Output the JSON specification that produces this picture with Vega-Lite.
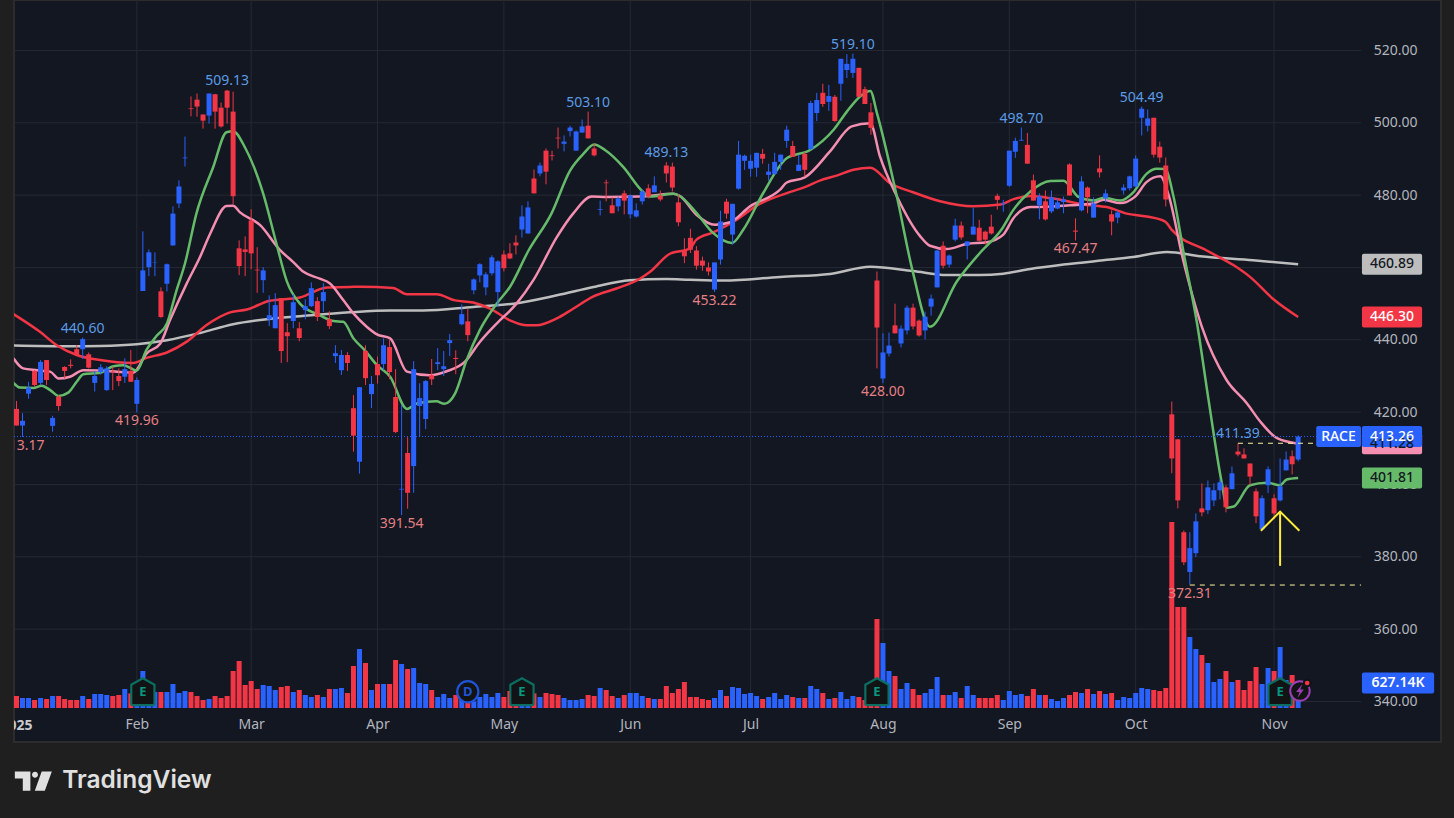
{
"$schema":"https://vega.github.io/schema/vega-lite/v6.json",
"width":1427,"height":742,"autosize":"none",
"padding":{"left":14,"top":0,"right":13,"bottom":76},
"background":"#1f1f1f",
"view":{"fill":"#131722","stroke":"#2c2c2c","strokeWidth":2},
"config":{"font":"Noto Sans","legend":{"disable":true},"axis":{"title":null},"scale":{"continuousPadding":0}},
"datasets":{
"candles":[
{"i":0,"o":420.9,"h":423.1,"l":416.3,"c":416.3,"v":300,"d":"down"},
{"i":1,"o":416.3,"h":419.7,"l":413.17,"c":417.6,"v":250,"d":"up"},
{"i":2,"o":425.1,"h":428.4,"l":423.7,"c":426.8,"v":250,"d":"up"},
{"i":3,"o":431.4,"h":431.6,"l":427.0,"c":427.5,"v":200,"d":"down"},
{"i":4,"o":428.1,"h":434.4,"l":427.5,"c":433.9,"v":250,"d":"up"},
{"i":5,"o":434.4,"h":434.4,"l":427.5,"c":428.9,"v":225,"d":"down"},
{"i":6,"o":416.2,"h":419.0,"l":414.6,"c":418.4,"v":300,"d":"up"},
{"i":7,"o":424.3,"h":424.7,"l":420.4,"c":421.7,"v":300,"d":"down"},
{"i":8,"o":432.5,"h":432.7,"l":429.3,"c":431.4,"v":225,"d":"down"},
{"i":9,"o":433.1,"h":434.6,"l":432.1,"c":432.8,"v":200,"d":"down"},
{"i":10,"o":437.4,"h":438.5,"l":435.8,"c":435.8,"v":200,"d":"down"},
{"i":11,"o":437.4,"h":440.6,"l":434.7,"c":440.2,"v":300,"d":"up"},
{"i":12,"o":436.0,"h":436.5,"l":432.1,"c":432.3,"v":225,"d":"down"},
{"i":13,"o":428.1,"h":431.4,"l":425.7,"c":430.0,"v":350,"d":"up"},
{"i":14,"o":431.1,"h":433.3,"l":430.3,"c":432.4,"v":350,"d":"up"},
{"i":15,"o":426.1,"h":432.7,"l":425.9,"c":432.1,"v":325,"d":"up"},
{"i":16,"o":431.2,"h":432.6,"l":426.1,"c":431.0,"v":300,"d":"down"},
{"i":17,"o":430.0,"h":432.1,"l":427.2,"c":428.6,"v":325,"d":"down"},
{"i":18,"o":429.8,"h":434.9,"l":428.1,"c":431.9,"v":475,"d":"up"},
{"i":19,"o":431.4,"h":437.2,"l":428.4,"c":428.4,"v":365,"d":"down"},
{"i":20,"o":422.3,"h":429.6,"l":419.96,"c":428.9,"v":330,"d":"up"},
{"i":21,"o":453.5,"h":470.0,"l":453.5,"c":459.2,"v":925,"d":"up"},
{"i":22,"o":460.1,"h":465.0,"l":457.6,"c":464.2,"v":330,"d":"up"},
{"i":23,"o":461.3,"h":464.2,"l":457.6,"c":461.4,"v":400,"d":"up"},
{"i":24,"o":453.4,"h":454.5,"l":446.1,"c":446.3,"v":400,"d":"down"},
{"i":25,"o":455.5,"h":461.1,"l":453.4,"c":460.9,"v":400,"d":"up"},
{"i":26,"o":466.1,"h":476.9,"l":466.0,"c":474.9,"v":600,"d":"up"},
{"i":27,"o":477.7,"h":484.1,"l":476.4,"c":482.4,"v":375,"d":"up"},
{"i":28,"o":490.2,"h":496.2,"l":487.9,"c":490.4,"v":425,"d":"up"},
{"i":29,"o":504.0,"h":507.3,"l":501.8,"c":503.8,"v":400,"d":"down"},
{"i":30,"o":506.4,"h":508.1,"l":501.7,"c":504.5,"v":300,"d":"down"},
{"i":31,"o":502.3,"h":502.3,"l":498.4,"c":500.6,"v":200,"d":"down"},
{"i":32,"o":502.0,"h":508.1,"l":499.8,"c":508.1,"v":225,"d":"up"},
{"i":33,"o":507.9,"h":508.0,"l":498.4,"c":503.1,"v":300,"d":"down"},
{"i":34,"o":504.2,"h":505.6,"l":498.7,"c":499.0,"v":250,"d":"down"},
{"i":35,"o":508.9,"h":509.13,"l":499.8,"c":504.2,"v":300,"d":"down"},
{"i":36,"o":503.1,"h":508.6,"l":477.5,"c":479.7,"v":925,"d":"down"},
{"i":37,"o":465.3,"h":467.5,"l":457.9,"c":460.4,"v":1175,"d":"down"},
{"i":38,"o":465.0,"h":468.6,"l":457.6,"c":464.3,"v":575,"d":"down"},
{"i":39,"o":473.0,"h":476.1,"l":459.5,"c":463.9,"v":675,"d":"down"},
{"i":40,"o":459.4,"h":465.6,"l":453.0,"c":459.2,"v":475,"d":"down"},
{"i":41,"o":456.5,"h":460.1,"l":453.0,"c":459.2,"v":575,"d":"up"},
{"i":42,"o":445.6,"h":452.3,"l":443.8,"c":446.8,"v":550,"d":"up"},
{"i":43,"o":443.2,"h":452.9,"l":443.2,"c":449.6,"v":450,"d":"up"},
{"i":44,"o":451.5,"h":451.5,"l":433.6,"c":436.9,"v":525,"d":"down"},
{"i":45,"o":442.1,"h":444.6,"l":433.8,"c":441.0,"v":550,"d":"down"},
{"i":46,"o":445.2,"h":452.6,"l":443.2,"c":450.4,"v":400,"d":"up"},
{"i":47,"o":443.2,"h":444.9,"l":439.6,"c":440.5,"v":450,"d":"down"},
{"i":48,"o":448.2,"h":451.2,"l":445.7,"c":449.3,"v":325,"d":"up"},
{"i":49,"o":449.3,"h":455.9,"l":449.1,"c":454.3,"v":275,"d":"up"},
{"i":50,"o":450.7,"h":451.8,"l":445.2,"c":446.3,"v":325,"d":"down"},
{"i":51,"o":450.7,"h":455.7,"l":447.7,"c":453.2,"v":275,"d":"up"},
{"i":52,"o":445.7,"h":447.9,"l":443.0,"c":443.8,"v":475,"d":"down"},
{"i":53,"o":435.5,"h":438.5,"l":433.6,"c":436.3,"v":475,"d":"up"},
{"i":54,"o":431.6,"h":437.2,"l":430.3,"c":435.8,"v":500,"d":"up"},
{"i":55,"o":435.8,"h":436.6,"l":431.4,"c":433.6,"v":375,"d":"down"},
{"i":56,"o":421.1,"h":424.7,"l":409.1,"c":413.5,"v":1050,"d":"down"},
{"i":57,"o":406.3,"h":426.9,"l":403.0,"c":426.9,"v":1475,"d":"up"},
{"i":58,"o":436.9,"h":438.5,"l":427.5,"c":429.4,"v":1125,"d":"down"},
{"i":59,"o":425.0,"h":430.0,"l":421.1,"c":427.8,"v":450,"d":"up"},
{"i":60,"o":433.3,"h":435.4,"l":427.9,"c":430.2,"v":600,"d":"down"},
{"i":61,"o":433.3,"h":440.4,"l":431.6,"c":438.5,"v":600,"d":"up"},
{"i":62,"o":438.0,"h":439.9,"l":429.1,"c":431.1,"v":600,"d":"down"},
{"i":63,"o":424.2,"h":431.9,"l":414.2,"c":414.5,"v":1200,"d":"down"},
{"i":64,"o":398.6,"h":422.0,"l":391.54,"c":398.8,"v":1100,"d":"up"},
{"i":65,"o":408.7,"h":413.1,"l":393.3,"c":397.7,"v":975,"d":"down"},
{"i":66,"o":405.1,"h":434.1,"l":397.7,"c":431.9,"v":1000,"d":"up"},
{"i":67,"o":421.7,"h":428.0,"l":413.1,"c":423.9,"v":625,"d":"up"},
{"i":68,"o":418.1,"h":428.9,"l":415.3,"c":428.6,"v":600,"d":"up"},
{"i":69,"o":430.2,"h":434.7,"l":427.5,"c":429.1,"v":450,"d":"down"},
{"i":70,"o":433.3,"h":437.7,"l":431.6,"c":433.8,"v":275,"d":"up"},
{"i":71,"o":431.9,"h":436.9,"l":430.0,"c":432.7,"v":350,"d":"up"},
{"i":72,"o":439.1,"h":441.6,"l":435.5,"c":439.9,"v":250,"d":"up"},
{"i":73,"o":435.0,"h":437.1,"l":430.5,"c":434.7,"v":325,"d":"down"},
{"i":74,"o":444.3,"h":449.8,"l":444.0,"c":447.1,"v":250,"d":"up"},
{"i":75,"o":445.1,"h":448.5,"l":439.6,"c":441.3,"v":210,"d":"down"},
{"i":76,"o":453.7,"h":457.0,"l":452.6,"c":456.7,"v":165,"d":"up"},
{"i":77,"o":457.8,"h":461.2,"l":455.9,"c":460.9,"v":275,"d":"up"},
{"i":78,"o":454.5,"h":458.7,"l":452.3,"c":458.1,"v":350,"d":"up"},
{"i":79,"o":458.4,"h":463.4,"l":457.8,"c":462.8,"v":275,"d":"up"},
{"i":80,"o":453.2,"h":462.0,"l":449.1,"c":461.7,"v":375,"d":"up"},
{"i":81,"o":463.6,"h":464.7,"l":458.9,"c":459.8,"v":275,"d":"down"},
{"i":82,"o":463.9,"h":466.7,"l":462.3,"c":462.5,"v":425,"d":"down"},
{"i":83,"o":466.9,"h":468.9,"l":463.6,"c":466.1,"v":330,"d":"down"},
{"i":84,"o":470.5,"h":477.2,"l":468.3,"c":474.1,"v":330,"d":"up"},
{"i":85,"o":469.4,"h":478.3,"l":469.4,"c":476.6,"v":330,"d":"up"},
{"i":86,"o":484.6,"h":487.1,"l":480.5,"c":480.5,"v":365,"d":"down"},
{"i":87,"o":486.0,"h":489.0,"l":485.2,"c":488.2,"v":275,"d":"up"},
{"i":88,"o":492.3,"h":492.9,"l":483.0,"c":486.5,"v":375,"d":"down"},
{"i":89,"o":491.0,"h":492.3,"l":489.6,"c":490.8,"v":350,"d":"down"},
{"i":90,"o":495.9,"h":498.7,"l":492.9,"c":495.7,"v":325,"d":"down"},
{"i":91,"o":494.2,"h":496.5,"l":492.1,"c":494.8,"v":250,"d":"up"},
{"i":92,"o":497.7,"h":499.2,"l":496.2,"c":498.7,"v":200,"d":"up"},
{"i":93,"o":492.3,"h":497.9,"l":492.3,"c":497.6,"v":200,"d":"up"},
{"i":94,"o":497.3,"h":500.9,"l":497.3,"c":499.0,"v":225,"d":"up"},
{"i":95,"o":499.2,"h":503.1,"l":495.7,"c":495.7,"v":325,"d":"down"},
{"i":96,"o":492.9,"h":494.2,"l":490.7,"c":491.0,"v":300,"d":"down"},
{"i":97,"o":475.9,"h":478.5,"l":474.4,"c":476.1,"v":500,"d":"up"},
{"i":98,"o":483.5,"h":484.3,"l":478.3,"c":483.3,"v":450,"d":"down"},
{"i":99,"o":477.2,"h":479.4,"l":475.0,"c":475.0,"v":300,"d":"down"},
{"i":100,"o":476.9,"h":479.6,"l":475.5,"c":479.1,"v":250,"d":"up"},
{"i":101,"o":480.5,"h":481.3,"l":474.7,"c":478.5,"v":325,"d":"down"},
{"i":102,"o":474.7,"h":480.2,"l":473.6,"c":479.9,"v":375,"d":"up"},
{"i":103,"o":474.1,"h":477.7,"l":473.8,"c":475.8,"v":375,"d":"up"},
{"i":104,"o":478.3,"h":481.6,"l":477.4,"c":481.0,"v":300,"d":"up"},
{"i":105,"o":481.9,"h":483.0,"l":479.1,"c":479.6,"v":250,"d":"down"},
{"i":106,"o":480.8,"h":485.2,"l":480.8,"c":482.7,"v":225,"d":"up"},
{"i":107,"o":479.9,"h":481.3,"l":478.3,"c":478.8,"v":225,"d":"down"},
{"i":108,"o":488.2,"h":489.13,"l":483.5,"c":486.0,"v":550,"d":"down"},
{"i":109,"o":487.9,"h":489.0,"l":481.0,"c":482.1,"v":375,"d":"down"},
{"i":110,"o":478.0,"h":480.2,"l":471.4,"c":472.5,"v":475,"d":"down"},
{"i":111,"o":464.7,"h":468.1,"l":461.2,"c":463.1,"v":650,"d":"down"},
{"i":112,"o":468.2,"h":470.7,"l":464.0,"c":464.9,"v":275,"d":"down"},
{"i":113,"o":464.7,"h":465.9,"l":459.4,"c":460.5,"v":275,"d":"down"},
{"i":114,"o":461.9,"h":463.0,"l":459.1,"c":460.5,"v":225,"d":"down"},
{"i":115,"o":460.0,"h":461.4,"l":457.8,"c":458.9,"v":200,"d":"down"},
{"i":116,"o":453.9,"h":461.4,"l":453.22,"c":461.4,"v":250,"d":"up"},
{"i":117,"o":462.2,"h":475.7,"l":460.8,"c":472.7,"v":450,"d":"up"},
{"i":118,"o":478.2,"h":479.0,"l":473.5,"c":474.9,"v":300,"d":"down"},
{"i":119,"o":469.1,"h":477.6,"l":466.3,"c":477.6,"v":525,"d":"up"},
{"i":120,"o":481.8,"h":495.0,"l":481.5,"c":491.2,"v":500,"d":"up"},
{"i":121,"o":489.5,"h":491.2,"l":487.0,"c":490.9,"v":350,"d":"up"},
{"i":122,"o":487.3,"h":491.2,"l":485.1,"c":489.5,"v":375,"d":"up"},
{"i":123,"o":487.6,"h":491.7,"l":485.1,"c":491.7,"v":300,"d":"up"},
{"i":124,"o":491.4,"h":492.8,"l":488.7,"c":490.1,"v":225,"d":"down"},
{"i":125,"o":485.6,"h":488.7,"l":484.0,"c":486.5,"v":275,"d":"up"},
{"i":126,"o":485.9,"h":491.7,"l":485.6,"c":489.2,"v":375,"d":"up"},
{"i":127,"o":489.2,"h":491.2,"l":487.0,"c":491.2,"v":225,"d":"up"},
{"i":128,"o":495.0,"h":499.2,"l":493.1,"c":498.1,"v":325,"d":"up"},
{"i":129,"o":493.6,"h":495.0,"l":490.6,"c":490.6,"v":275,"d":"down"},
{"i":130,"o":486.7,"h":491.2,"l":486.7,"c":488.4,"v":250,"d":"up"},
{"i":131,"o":491.4,"h":492.0,"l":485.1,"c":487.0,"v":250,"d":"down"},
{"i":132,"o":492.8,"h":506.1,"l":492.5,"c":505.5,"v":550,"d":"up"},
{"i":133,"o":502.7,"h":508.3,"l":500.5,"c":506.3,"v":475,"d":"up"},
{"i":134,"o":508.3,"h":510.8,"l":504.4,"c":505.2,"v":375,"d":"down"},
{"i":135,"o":505.8,"h":510.5,"l":503.3,"c":507.4,"v":225,"d":"up"},
{"i":136,"o":507.2,"h":507.7,"l":500.3,"c":500.5,"v":250,"d":"down"},
{"i":137,"o":510.8,"h":517.7,"l":506.1,"c":517.7,"v":400,"d":"up"},
{"i":138,"o":514.6,"h":519.0,"l":512.4,"c":516.3,"v":225,"d":"up"},
{"i":139,"o":513.8,"h":519.1,"l":512.4,"c":517.7,"v":300,"d":"up"},
{"i":140,"o":515.2,"h":515.2,"l":507.2,"c":507.2,"v":275,"d":"down"},
{"i":141,"o":509.3,"h":510.0,"l":505.2,"c":505.2,"v":200,"d":"down"},
{"i":142,"o":502.9,"h":505.5,"l":496.7,"c":498.6,"v":250,"d":"down"},
{"i":143,"o":456.4,"h":458.9,"l":432.1,"c":443.4,"v":2225,"d":"down"},
{"i":144,"o":429.3,"h":441.8,"l":428.0,"c":436.5,"v":1625,"d":"up"},
{"i":145,"o":436.2,"h":442.0,"l":435.4,"c":438.4,"v":925,"d":"up"},
{"i":146,"o":444.0,"h":450.0,"l":441.8,"c":441.8,"v":800,"d":"down"},
{"i":147,"o":439.0,"h":444.0,"l":437.9,"c":443.1,"v":475,"d":"up"},
{"i":148,"o":442.6,"h":449.5,"l":441.5,"c":448.9,"v":625,"d":"up"},
{"i":149,"o":448.9,"h":450.0,"l":442.9,"c":443.7,"v":475,"d":"down"},
{"i":150,"o":445.3,"h":445.6,"l":440.9,"c":441.2,"v":325,"d":"down"},
{"i":151,"o":442.6,"h":447.8,"l":440.1,"c":446.4,"v":375,"d":"up"},
{"i":152,"o":449.2,"h":452.5,"l":446.7,"c":451.4,"v":475,"d":"up"},
{"i":153,"o":454.5,"h":464.9,"l":454.5,"c":464.7,"v":775,"d":"up"},
{"i":154,"o":466.0,"h":467.2,"l":459.7,"c":460.5,"v":325,"d":"down"},
{"i":155,"o":460.8,"h":463.6,"l":460.0,"c":463.3,"v":325,"d":"up"},
{"i":156,"o":467.7,"h":473.5,"l":467.2,"c":471.6,"v":400,"d":"up"},
{"i":157,"o":471.6,"h":472.7,"l":467.7,"c":468.3,"v":250,"d":"down"},
{"i":158,"o":466.0,"h":467.2,"l":462.2,"c":467.2,"v":550,"d":"up"},
{"i":159,"o":469.1,"h":476.5,"l":469.1,"c":471.3,"v":325,"d":"up"},
{"i":160,"o":471.0,"h":473.2,"l":467.2,"c":467.4,"v":250,"d":"down"},
{"i":161,"o":469.9,"h":470.2,"l":466.3,"c":467.7,"v":250,"d":"down"},
{"i":162,"o":471.3,"h":474.6,"l":469.1,"c":469.4,"v":250,"d":"down"},
{"i":163,"o":479.8,"h":480.4,"l":476.0,"c":478.7,"v":325,"d":"down"},
{"i":164,"o":477.5,"h":478.7,"l":475.4,"c":477.7,"v":200,"d":"up"},
{"i":165,"o":482.6,"h":492.3,"l":482.3,"c":492.3,"v":425,"d":"up"},
{"i":166,"o":492.0,"h":495.9,"l":490.3,"c":495.0,"v":325,"d":"up"},
{"i":167,"o":495.1,"h":498.7,"l":495.0,"c":495.3,"v":350,"d":"up"},
{"i":168,"o":493.9,"h":497.2,"l":488.7,"c":488.7,"v":300,"d":"down"},
{"i":169,"o":484.1,"h":485.7,"l":478.5,"c":478.5,"v":475,"d":"down"},
{"i":170,"o":477.2,"h":480.5,"l":473.3,"c":479.6,"v":325,"d":"up"},
{"i":171,"o":478.3,"h":481.3,"l":473.0,"c":473.3,"v":325,"d":"down"},
{"i":172,"o":475.5,"h":481.3,"l":475.0,"c":479.4,"v":225,"d":"up"},
{"i":173,"o":476.3,"h":479.1,"l":476.1,"c":478.0,"v":175,"d":"up"},
{"i":174,"o":478.1,"h":479.6,"l":475.0,"c":478.8,"v":250,"d":"up"},
{"i":175,"o":488.5,"h":488.8,"l":479.9,"c":479.9,"v":325,"d":"down"},
{"i":176,"o":470.2,"h":473.6,"l":467.47,"c":469.9,"v":400,"d":"down"},
{"i":177,"o":475.8,"h":485.2,"l":475.5,"c":483.8,"v":375,"d":"up"},
{"i":178,"o":482.1,"h":482.4,"l":475.0,"c":479.4,"v":475,"d":"down"},
{"i":179,"o":473.8,"h":479.4,"l":473.8,"c":477.7,"v":350,"d":"up"},
{"i":180,"o":487.4,"h":491.0,"l":484.9,"c":486.3,"v":425,"d":"down"},
{"i":181,"o":479.1,"h":481.6,"l":478.0,"c":480.5,"v":350,"d":"up"},
{"i":182,"o":474.7,"h":475.8,"l":468.9,"c":472.7,"v":375,"d":"down"},
{"i":183,"o":473.8,"h":475.8,"l":472.2,"c":475.2,"v":200,"d":"up"},
{"i":184,"o":481.3,"h":483.0,"l":480.2,"c":482.1,"v":275,"d":"up"},
{"i":185,"o":481.9,"h":485.4,"l":481.3,"c":485.2,"v":250,"d":"up"},
{"i":186,"o":482.4,"h":491.0,"l":482.2,"c":490.1,"v":375,"d":"up"},
{"i":187,"o":501.4,"h":504.49,"l":496.5,"c":503.9,"v":500,"d":"up"},
{"i":188,"o":499.2,"h":503.7,"l":497.6,"c":501.2,"v":475,"d":"up"},
{"i":189,"o":501.4,"h":501.4,"l":490.4,"c":491.2,"v":450,"d":"down"},
{"i":190,"o":493.4,"h":494.8,"l":489.0,"c":490.4,"v":425,"d":"down"},
{"i":191,"o":488.2,"h":490.4,"l":476.9,"c":478.8,"v":500,"d":"down"},
{"i":192,"o":419.4,"h":422.9,"l":403.1,"c":407.2,"v":4650,"d":"down"},
{"i":193,"o":412.5,"h":412.5,"l":393.4,"c":395.6,"v":2525,"d":"down"},
{"i":194,"o":386.8,"h":387.3,"l":377.7,"c":378.5,"v":2525,"d":"down"},
{"i":195,"o":375.8,"h":386.8,"l":372.31,"c":382.4,"v":1775,"d":"up"},
{"i":196,"o":381.0,"h":392.0,"l":379.9,"c":389.8,"v":1475,"d":"up"},
{"i":197,"o":393.4,"h":400.3,"l":391.2,"c":392.3,"v":1325,"d":"down"},
{"i":198,"o":392.9,"h":401.1,"l":391.8,"c":399.2,"v":1125,"d":"up"},
{"i":199,"o":395.6,"h":400.3,"l":394.0,"c":398.4,"v":650,"d":"up"},
{"i":200,"o":398.4,"h":401.4,"l":395.9,"c":400.6,"v":725,"d":"up"},
{"i":201,"o":399.2,"h":399.8,"l":392.3,"c":393.7,"v":925,"d":"down"},
{"i":202,"o":398.7,"h":405.0,"l":398.7,"c":403.1,"v":650,"d":"up"},
{"i":203,"o":409.1,"h":411.39,"l":407.8,"c":408.3,"v":700,"d":"down"},
{"i":204,"o":408.3,"h":410.0,"l":407.2,"c":407.2,"v":450,"d":"down"},
{"i":205,"o":405.8,"h":405.8,"l":399.8,"c":402.2,"v":675,"d":"down"},
{"i":206,"o":398.1,"h":398.9,"l":389.3,"c":391.2,"v":1025,"d":"down"},
{"i":207,"o":387.6,"h":397.0,"l":387.3,"c":396.2,"v":600,"d":"up"},
{"i":208,"o":399.8,"h":405.0,"l":397.6,"c":404.2,"v":1000,"d":"up"},
{"i":209,"o":396.2,"h":397.3,"l":390.4,"c":392.0,"v":925,"d":"down"},
{"i":210,"o":395.6,"h":407.2,"l":395.3,"c":399.5,"v":1525,"d":"up"},
{"i":211,"o":403.9,"h":409.1,"l":403.9,"c":406.9,"v":700,"d":"up"},
{"i":212,"o":407.8,"h":409.4,"l":402.8,"c":405.6,"v":825,"d":"down"},
{"i":213,"o":406.9,"h":413.6,"l":406.4,"c":413.26,"v":627.14,"d":"up"}
],
"averages":[
{"ma":"sma","i":-0.5,"p":438.4},{"ma":"sma","i":8.3,"p":438.2},{"ma":"sma","i":13.9,"p":438.3},{"ma":"sma","i":20,"p":438.8},{"ma":"sma","i":25,"p":439.9},{"ma":"sma","i":30.5,"p":441.9},{"ma":"sma","i":36,"p":444.3},{"ma":"sma","i":41.6,"p":445.7},{"ma":"sma","i":47.1,"p":446.5},{"ma":"sma","i":55.4,"p":447.6},{"ma":"sma","i":62.1,"p":448.1},{"ma":"sma","i":67.6,"p":448.1},{"ma":"sma","i":75.9,"p":449.1},{"ma":"sma","i":82.6,"p":450},{"ma":"sma","i":89.8,"p":452.3},{"ma":"sma","i":95.9,"p":454.6},{"ma":"sma","i":101.9,"p":456.5},{"ma":"sma","i":108,"p":456.8},{"ma":"sma","i":111.9,"p":456.6},{"ma":"sma","i":117.5,"p":456.4},{"ma":"sma","i":126.9,"p":457.4},{"ma":"sma","i":135.2,"p":458.2},{"ma":"sma","i":141.9,"p":460.2},{"ma":"sma","i":149,"p":459},{"ma":"sma","i":154.6,"p":457.9},{"ma":"sma","i":160.1,"p":457.9},{"ma":"sma","i":164,"p":458.3},{"ma":"sma","i":168.5,"p":459.6},{"ma":"sma","i":174,"p":460.8},{"ma":"sma","i":181.8,"p":462.2},{"ma":"sma","i":185.6,"p":462.9},{"ma":"sma","i":191.2,"p":464.3},{"ma":"sma","i":196.7,"p":463.1},{"ma":"sma","i":205.5,"p":462},{"ma":"sma","i":213,"p":460.89},
{"ma":"ema","i":-0.5,"p":447.1},{"ma":"ema","i":3.9,"p":442.2},{"ma":"ema","i":6.7,"p":438.5},{"ma":"ema","i":10,"p":435.8},{"ma":"ema","i":13.9,"p":434.4},{"ma":"ema","i":19.4,"p":433.6},{"ma":"ema","i":21.6,"p":435},{"ma":"ema","i":25,"p":436.5},{"ma":"ema","i":28.3,"p":439.5},{"ma":"ema","i":31.6,"p":444.1},{"ma":"ema","i":35.5,"p":447.6},{"ma":"ema","i":38.3,"p":448.4},{"ma":"ema","i":42.1,"p":450.8},{"ma":"ema","i":47.1,"p":451.7},{"ma":"ema","i":51.6,"p":454.5},{"ma":"ema","i":55.4,"p":454.6},{"ma":"ema","i":57.1,"p":454.7},{"ma":"ema","i":62.6,"p":454.3},{"ma":"ema","i":64.9,"p":452.6},{"ma":"ema","i":69.8,"p":452.6},{"ma":"ema","i":72.9,"p":450.9},{"ma":"ema","i":75.9,"p":450.3},{"ma":"ema","i":78.7,"p":448.6},{"ma":"ema","i":82,"p":445.4},{"ma":"ema","i":84.8,"p":444},{"ma":"ema","i":86.4,"p":444},{"ma":"ema","i":89.8,"p":445.9},{"ma":"ema","i":92.5,"p":448.6},{"ma":"ema","i":95.9,"p":452},{"ma":"ema","i":99.7,"p":454.2},{"ma":"ema","i":103.6,"p":456.9},{"ma":"ema","i":105.3,"p":458.8},{"ma":"ema","i":108.6,"p":463.8},{"ma":"ema","i":111.9,"p":465.2},{"ma":"ema","i":113,"p":467.7},{"ma":"ema","i":115.8,"p":469.7},{"ma":"ema","i":119.7,"p":473.2},{"ma":"ema","i":123,"p":477.1},{"ma":"ema","i":128.6,"p":480.9},{"ma":"ema","i":131,"p":482.2},{"ma":"ema","i":133.6,"p":484.1},{"ma":"ema","i":136.3,"p":485.4},{"ma":"ema","i":139.1,"p":487},{"ma":"ema","i":141.9,"p":487.6},{"ma":"ema","i":145.2,"p":483.3},{"ma":"ema","i":149,"p":480.8},{"ma":"ema","i":153.5,"p":478.3},{"ma":"ema","i":159,"p":476.9},{"ma":"ema","i":163.5,"p":477.4},{"ma":"ema","i":165.7,"p":478.9},{"ma":"ema","i":168.5,"p":479.8},{"ma":"ema","i":171.8,"p":479.2},{"ma":"ema","i":177.9,"p":477.3},{"ma":"ema","i":181.2,"p":476.7},{"ma":"ema","i":184.5,"p":474.9},{"ma":"ema","i":187.8,"p":474.1},{"ma":"ema","i":190.9,"p":472.7},{"ma":"ema","i":192,"p":470.4},{"ma":"ema","i":197.8,"p":464.7},{"ma":"ema","i":202.3,"p":460.6},{"ma":"ema","i":205,"p":457.4},{"ma":"ema","i":208.9,"p":451.2},{"ma":"ema","i":213,"p":446.3},
{"ma":"slow","i":-0.5,"p":434.9},{"ma":"slow","i":1.1,"p":432.1},{"ma":"slow","i":3.4,"p":431.6},{"ma":"slow","i":5.6,"p":431.2},{"ma":"slow","i":7,"p":429.3},{"ma":"slow","i":8.9,"p":429.8},{"ma":"slow","i":11.1,"p":431.6},{"ma":"slow","i":13.9,"p":431.5},{"ma":"slow","i":19.4,"p":430.9},{"ma":"slow","i":21.6,"p":436.2},{"ma":"slow","i":23.9,"p":439},{"ma":"slow","i":25.5,"p":445.4},{"ma":"slow","i":28.3,"p":455.6},{"ma":"slow","i":30.5,"p":462.9},{"ma":"slow","i":32.2,"p":469.4},{"ma":"slow","i":34.9,"p":477},{"ma":"slow","i":36,"p":477.1},{"ma":"slow","i":37.1,"p":475.3},{"ma":"slow","i":40.5,"p":471.7},{"ma":"slow","i":43.8,"p":464.8},{"ma":"slow","i":46,"p":461.5},{"ma":"slow","i":47.7,"p":458.8},{"ma":"slow","i":50.4,"p":456.9},{"ma":"slow","i":52.1,"p":455.6},{"ma":"slow","i":54.3,"p":451},{"ma":"slow","i":56,"p":447.3},{"ma":"slow","i":58.2,"p":443.6},{"ma":"slow","i":59.9,"p":441.5},{"ma":"slow","i":62.1,"p":440.4},{"ma":"slow","i":64.9,"p":431.2},{"ma":"slow","i":68.7,"p":430.2},{"ma":"slow","i":71.5,"p":431.3},{"ma":"slow","i":74.5,"p":433.9},{"ma":"slow","i":77,"p":439.4},{"ma":"slow","i":79.8,"p":444.5},{"ma":"slow","i":83.1,"p":450},{"ma":"slow","i":85.9,"p":456.5},{"ma":"slow","i":89.8,"p":468.4},{"ma":"slow","i":92.5,"p":474.9},{"ma":"slow","i":95.6,"p":479.6},{"ma":"slow","i":98.1,"p":479.5},{"ma":"slow","i":103.6,"p":479.6},{"ma":"slow","i":109.2,"p":480.4},{"ma":"slow","i":110.3,"p":479.7},{"ma":"slow","i":113,"p":474.6},{"ma":"slow","i":116.1,"p":471.8},{"ma":"slow","i":118.6,"p":472.5},{"ma":"slow","i":121.9,"p":476.9},{"ma":"slow","i":126.9,"p":481.5},{"ma":"slow","i":128,"p":483.5},{"ma":"slow","i":131,"p":484.9},{"ma":"slow","i":135.2,"p":492.1},{"ma":"slow","i":138.8,"p":499},{"ma":"slow","i":141.9,"p":499.9},{"ma":"slow","i":143.5,"p":490.7},{"ma":"slow","i":146.3,"p":479.7},{"ma":"slow","i":150.2,"p":468.6},{"ma":"slow","i":151.8,"p":466},{"ma":"slow","i":154.6,"p":465.1},{"ma":"slow","i":157.9,"p":466.5},{"ma":"slow","i":161.3,"p":467},{"ma":"slow","i":164,"p":469.1},{"ma":"slow","i":165.7,"p":473.7},{"ma":"slow","i":168.5,"p":476.7},{"ma":"slow","i":171.2,"p":476.8},{"ma":"slow","i":175.1,"p":477.2},{"ma":"slow","i":178.7,"p":477.6},{"ma":"slow","i":180.7,"p":478.7},{"ma":"slow","i":183.4,"p":477.8},{"ma":"slow","i":185.9,"p":479.6},{"ma":"slow","i":187.8,"p":483.6},{"ma":"slow","i":190.1,"p":485.2},{"ma":"slow","i":191.4,"p":480.4},{"ma":"slow","i":193.9,"p":462},{"ma":"slow","i":197,"p":443.6},{"ma":"slow","i":201.1,"p":428.9},{"ma":"slow","i":204.5,"p":422.4},{"ma":"slow","i":206.7,"p":417.4},{"ma":"slow","i":209.5,"p":412.8},{"ma":"slow","i":213,"p":411.28},
{"ma":"fast","i":-0.5,"p":428.1},{"ma":"fast","i":0.6,"p":426.8},{"ma":"fast","i":2.8,"p":426.7},{"ma":"fast","i":4.2,"p":427.3},{"ma":"fast","i":5.6,"p":426.1},{"ma":"fast","i":7,"p":424.5},{"ma":"fast","i":8.6,"p":425.4},{"ma":"fast","i":10,"p":428.4},{"ma":"fast","i":11.1,"p":430.5},{"ma":"fast","i":13.9,"p":430.9},{"ma":"fast","i":16.1,"p":432.7},{"ma":"fast","i":17.8,"p":433},{"ma":"fast","i":20,"p":431.5},{"ma":"fast","i":21.6,"p":437.2},{"ma":"fast","i":23.3,"p":441.1},{"ma":"fast","i":25,"p":444.5},{"ma":"fast","i":26.6,"p":453.7},{"ma":"fast","i":28,"p":461.1},{"ma":"fast","i":29.9,"p":474.9},{"ma":"fast","i":32.7,"p":487.8},{"ma":"fast","i":34.9,"p":497.4},{"ma":"fast","i":36,"p":497.7},{"ma":"fast","i":38,"p":493.1},{"ma":"fast","i":41,"p":480.4},{"ma":"fast","i":43.2,"p":466.6},{"ma":"fast","i":44.9,"p":456.3},{"ma":"fast","i":47.1,"p":450},{"ma":"fast","i":50.4,"p":446.8},{"ma":"fast","i":52.7,"p":445.2},{"ma":"fast","i":54.3,"p":445},{"ma":"fast","i":56,"p":440.4},{"ma":"fast","i":57.9,"p":437.1},{"ma":"fast","i":59.9,"p":433},{"ma":"fast","i":62.1,"p":429.8},{"ma":"fast","i":64.9,"p":420.9},{"ma":"fast","i":66.5,"p":422.4},{"ma":"fast","i":69.8,"p":423},{"ma":"fast","i":71.1,"p":422.3},{"ma":"fast","i":72.9,"p":425.2},{"ma":"fast","i":74.8,"p":434.4},{"ma":"fast","i":77,"p":442.7},{"ma":"fast","i":79.8,"p":450},{"ma":"fast","i":82,"p":454.6},{"ma":"fast","i":85.1,"p":464.7},{"ma":"fast","i":88.9,"p":474.9},{"ma":"fast","i":92,"p":486.8},{"ma":"fast","i":94.2,"p":491.4},{"ma":"fast","i":96,"p":494},{"ma":"fast","i":97.8,"p":492.5},{"ma":"fast","i":100.9,"p":487.7},{"ma":"fast","i":103.9,"p":481.3},{"ma":"fast","i":105.3,"p":479.6},{"ma":"fast","i":109.2,"p":480.4},{"ma":"fast","i":110.3,"p":479.7},{"ma":"fast","i":113,"p":475.1},{"ma":"fast","i":115.8,"p":469.5},{"ma":"fast","i":118.9,"p":466.8},{"ma":"fast","i":120.8,"p":470.5},{"ma":"fast","i":124.1,"p":480.6},{"ma":"fast","i":128,"p":490.2},{"ma":"fast","i":131.9,"p":492.5},{"ma":"fast","i":135.8,"p":498.1},{"ma":"fast","i":138,"p":503.1},{"ma":"fast","i":140.2,"p":507.3},{"ma":"fast","i":141.9,"p":508.8},{"ma":"fast","i":143,"p":502.7},{"ma":"fast","i":146.3,"p":479.7},{"ma":"fast","i":149,"p":458.5},{"ma":"fast","i":151.8,"p":443.6},{"ma":"fast","i":156.3,"p":456.2},{"ma":"fast","i":160.1,"p":464},{"ma":"fast","i":163.7,"p":470.5},{"ma":"fast","i":165.7,"p":476},{"ma":"fast","i":168.5,"p":481},{"ma":"fast","i":171.8,"p":483.9},{"ma":"fast","i":174,"p":484},{"ma":"fast","i":176.5,"p":479.5},{"ma":"fast","i":179,"p":478.5},{"ma":"fast","i":180.7,"p":479.3},{"ma":"fast","i":183.4,"p":478.5},{"ma":"fast","i":185.6,"p":480.8},{"ma":"fast","i":187.8,"p":485.9},{"ma":"fast","i":189.5,"p":487.3},{"ma":"fast","i":190.9,"p":487.2},{"ma":"fast","i":192.3,"p":479.5},{"ma":"fast","i":194,"p":463.8},{"ma":"fast","i":196.2,"p":444.5},{"ma":"fast","i":198.1,"p":423.5},{"ma":"fast","i":200.3,"p":400.5},{"ma":"fast","i":201.2,"p":393.6},{"ma":"fast","i":202.3,"p":393.9},{"ma":"fast","i":205,"p":399.8},{"ma":"fast","i":207.8,"p":400.5},{"ma":"fast","i":210,"p":399.8},{"ma":"fast","i":211.1,"p":401.4},{"ma":"fast","i":213,"p":401.81}
],
"levels":[{"price":340},{"price":360},{"price":380},{"price":400},{"price":420},{"price":440},{"price":460},{"price":480},{"price":500},{"price":520}],
"months":[{"i":20},{"i":39},{"i":60},{"i":81},{"i":102},{"i":122},{"i":144},{"i":165},{"i":186},{"i":209}],
"highs":[{"i":11,"h":440.6},{"i":35,"h":509.13},{"i":95,"h":503.1},{"i":108,"h":489.13},{"i":139,"h":519.1},{"i":167,"h":498.7},{"i":187,"h":504.49},{"i":203,"h":411.39}],
"lows":[{"i":1,"l":413.17},{"i":20,"l":419.96},{"i":64,"l":391.54},{"i":116,"l":453.22},{"i":144,"l":428},{"i":176,"l":467.47},{"i":195,"l":372.31}],
"tags":[{"series":"slow","price":411.28,"label":"411.28"},{"series":"sma","price":460.89,"label":"460.89"},{"series":"ema","price":446.3,"label":"446.30"},{"series":"fast","price":401.81,"label":"401.81"},{"series":"up","price":413.26,"label":"413.26"}],
"drawn":[
{"seg":"upper","n":0,"i":203,"p":411.4},{"seg":"upper","n":1,"i":223.45,"p":411.4},
{"seg":"lower","n":0,"i":195,"p":372.2},{"seg":"lower","n":1,"i":223.45,"p":372.2}],
"arrow":[
{"seg":"stem","n":0,"i":210,"p":377.5},{"seg":"stem","n":1,"i":210,"p":392.5},
{"seg":"head","n":0,"i":206.8,"p":387.2},{"seg":"head","n":1,"i":210,"p":392.5},{"seg":"head","n":2,"i":213.2,"p":387.2}],
"events":[{"i":21,"kind":"E"},{"i":75,"kind":"D"},{"i":84,"kind":"E"},{"i":143,"kind":"E"},{"i":210,"kind":"E"}]
},
"layer":[
{"layer":[
{"data":{"name":"months"},"mark":{"type":"rule","color":"#252934","strokeWidth":1},"encoding":{
"x":{"field":"i","type":"quantitative","scale":{"domain":[-0.415,236.74],"nice":false,"zero":false},
"axis":{"values":[20,39,60,81,102,122,144,165,186,209],"labelExpr":"{'20':'Feb','39':'Mar','60':'Apr','81':'May','102':'Jun','122':'Jul','144':'Aug','165':'Sep','186':'Oct','209':'Nov'}[datum.value]","title":null,"grid":false,"domain":false,"ticks":false,"labelPadding":-25,"labelFontSize":14,"labelColor":"#b2b5be","labelFont":"Noto Sans","labelFlush":false,"labelOverlap":false}},
"y":{"datum":338.2,"type":"quantitative","scale":{"domain":[328.8,533.96],"nice":false,"zero":false},
"axis":{"orient":"right","values":[340,360,380,400,420,440,460,480,500,520],"format":".2f","title":null,"grid":false,"domain":false,"ticks":false,"labelAlign":"right","labelPadding":-24,"labelFontSize":14,"labelColor":"#b2b5be","labelFont":"Noto Sans"}},
"y2":{"datum":533.96}}},
{"data":{"name":"levels"},"mark":{"type":"rule","color":"#252934","strokeWidth":1},"encoding":{"y":{"field":"price","type":"quantitative"},"x":{"datum":-0.415,"type":"quantitative"},"x2":{"datum":223.45}}}
]},
{"data":{"name":"candles"},"layer":[
{"mark":{"type":"bar","width":5,"orient":"vertical"},"encoding":{"x":{"field":"i","type":"quantitative"},"y":{"field":"v","type":"quantitative","scale":{"domain":[-850,17700],"nice":false,"zero":false},"axis":null},"y2":{"datum":0},"color":{"field":"d","type":"nominal","scale":{"domain":["up","down","fast","slow","ema","sma"],"range":["#2962ff","#f23645","#66bb6a","#f48fb1","#f23645","#bdbdbd"]}}}},
{"data":{"values":[{"label":"627.14K"}]},"mark":{"type":"bar","orient":"horizontal","size":21,"cornerRadius":2,"color":"#2962ff"},"encoding":{"y":{"datum":627.14,"type":"quantitative"},"x":{"datum":223.6,"type":"quantitative"},"x2":{"datum":235.6}}},
{"data":{"values":[{"label":"627.14K"}]},"mark":{"type":"text","color":"#ffffff","fontSize":14,"fontWeight":600},"encoding":{"y":{"datum":627.14,"type":"quantitative"},"x":{"datum":229.6,"type":"quantitative"},"text":{"field":"label"}}},
{"data":{"name":"events"},"transform":[{"filter":"datum.kind == 'E'"}],"mark":{"type":"point","filled":true,"opacity":1,"fill":"#111315","stroke":"#0b6e60","strokeWidth":2.2,"shape":"M0 -1L.86 -.52L.86 .88Q.86 1 .74 1L-.74 1Q-.86 1 -.86 .88L-.86 -.52Z","size":729},"encoding":{"x":{"field":"i","type":"quantitative"},"y":{"datum":407,"type":"quantitative"}}},
{"data":{"name":"events"},"transform":[{"filter":"datum.kind == 'D'"}],"mark":{"type":"circle","opacity":1,"fill":"#111315","stroke":"#1f54d8","strokeWidth":2.2,"size":450},"encoding":{"x":{"field":"i","type":"quantitative"},"y":{"datum":407,"type":"quantitative"}}},
{"data":{"name":"events"},"transform":[{"filter":"datum.kind == 'E'"}],"mark":{"type":"text","color":"#089981","fontSize":13,"fontWeight":700},"encoding":{"x":{"field":"i","type":"quantitative"},"y":{"datum":407,"type":"quantitative"},"text":{"field":"kind"}}},
{"data":{"name":"events"},"transform":[{"filter":"datum.kind == 'D'"}],"mark":{"type":"text","color":"#1f54d8","fontSize":13,"fontWeight":700},"encoding":{"x":{"field":"i","type":"quantitative"},"y":{"datum":407,"type":"quantitative"},"text":{"field":"kind"}}},
{"data":{"values":[{"i":213.3}]},"mark":{"type":"circle","opacity":1,"fill":"#111315","stroke":"#9c3fb5","strokeWidth":2,"size":380},"encoding":{"x":{"field":"i","type":"quantitative"},"y":{"datum":425,"type":"quantitative"}}},
{"data":{"values":[{"i":213.3}]},"mark":{"type":"point","filled":true,"opacity":1,"fill":"#9c3fb5","shape":"M.35 -1L-.55 .15L-.05 .15L-.35 1L.55 -.2L.05 -.2Z","size":196},"encoding":{"x":{"field":"i","type":"quantitative"},"y":{"datum":425,"type":"quantitative"}}},
{"data":{"values":[{"i":214.5}]},"mark":{"type":"circle","opacity":1,"fill":"#f23645","stroke":"#111315","strokeWidth":2,"size":45},"encoding":{"x":{"field":"i","type":"quantitative"},"y":{"datum":625,"type":"quantitative"}}}
]},
{"layer":[
{"data":{"name":"averages"},"mark":{"type":"line","interpolate":"monotone","strokeWidth":2.5,"clip":true},"encoding":{"x":{"field":"i","type":"quantitative"},"y":{"field":"p","type":"quantitative","scale":{"domain":[328.8,533.96],"nice":false,"zero":false},"axis":null},"color":{"field":"ma","type":"nominal"},"detail":{"field":"ma"}}},
{"data":{"values":[{"price":413.26}]},"mark":{"type":"rule","color":"#2962ff","strokeDash":[1,2],"strokeWidth":1},"encoding":{"y":{"field":"price","type":"quantitative"},"x":{"datum":-0.415,"type":"quantitative"},"x2":{"datum":223.45}}},
{"data":{"name":"candles"},"mark":{"type":"rule","strokeWidth":1},"encoding":{"x":{"field":"i","type":"quantitative"},"y":{"field":"h","type":"quantitative"},"y2":{"field":"l"},"color":{"field":"d","type":"nominal"}}},
{"data":{"name":"candles"},"mark":{"type":"bar","width":5,"orient":"vertical","clip":true},"encoding":{"x":{"field":"i","type":"quantitative"},"y":{"field":"o","type":"quantitative"},"y2":{"field":"c"},"color":{"field":"d","type":"nominal"}}},
{"data":{"name":"drawn"},"mark":{"type":"line","color":"#fff59d","strokeWidth":1,"strokeDash":[5,5]},"encoding":{"x":{"field":"i","type":"quantitative"},"y":{"field":"p","type":"quantitative"},"detail":{"field":"seg"},"order":{"field":"n"}}},
{"data":{"name":"arrow"},"mark":{"type":"line","color":"#ffeb3b","strokeWidth":2},"encoding":{"x":{"field":"i","type":"quantitative"},"y":{"field":"p","type":"quantitative"},"detail":{"field":"seg"},"order":{"field":"n"}}},
{"data":{"name":"highs"},"mark":{"type":"text","color":"#5b9ce6","fontSize":14,"dy":-9,"clip":true},"encoding":{"x":{"field":"i","type":"quantitative"},"y":{"field":"h","type":"quantitative"},"text":{"field":"h","type":"quantitative","format":".2f"}}},
{"data":{"name":"lows"},"mark":{"type":"text","color":"#e57f82","fontSize":14,"dy":9,"clip":true},"encoding":{"x":{"field":"i","type":"quantitative"},"y":{"field":"l","type":"quantitative"},"text":{"field":"l","type":"quantitative","format":".2f"}}},
{"data":{"values":[{"i":0,"label":"2025"}]},"mark":{"type":"text","color":"#c8cad0","fontSize":14,"fontWeight":700,"clip":true},"encoding":{"x":{"field":"i","type":"quantitative"},"y":{"datum":333.2,"type":"quantitative"},"text":{"field":"label"}}},
{"data":{"name":"tags"},"mark":{"type":"bar","orient":"horizontal","size":21,"cornerRadius":2},"encoding":{"y":{"field":"price","type":"quantitative"},"x":{"datum":223.6,"type":"quantitative"},"x2":{"datum":233.6},"color":{"field":"series","type":"nominal"}}},
{"data":{"name":"tags"},"mark":{"type":"text","fontSize":14,"fontWeight":500},"encoding":{"y":{"field":"price","type":"quantitative"},"x":{"datum":228.6,"type":"quantitative"},"text":{"field":"label"},"color":{"condition":{"test":"datum.series == 'up' || datum.series == 'ema'","value":"#ffffff"},"value":"#131722"}}},
{"data":{"values":[{"ticker":"RACE","price":413.26}]},"mark":{"type":"bar","orient":"horizontal","size":21,"cornerRadius":2,"color":"#2962ff"},"encoding":{"y":{"field":"price","type":"quantitative"},"x":{"datum":216,"type":"quantitative"},"x2":{"datum":223.45}}},
{"data":{"values":[{"ticker":"RACE","price":413.26}]},"mark":{"type":"text","fontSize":14,"fontWeight":500,"color":"#ffffff"},"encoding":{"y":{"field":"price","type":"quantitative"},"x":{"datum":219.7,"type":"quantitative"},"text":{"field":"ticker"}}},
{"data":{"values":[{"brand":"TradingView"}]},"mark":{"type":"text","align":"left","font":"Inter","fontSize":24.5,"fontWeight":600,"color":"#e0e0e0"},"encoding":{"y":{"datum":318,"type":"quantitative"},"x":{"datum":7.6,"type":"quantitative"},"text":{"field":"brand"}}},
{"data":{"values":[{"brand":"TradingView"}]},"mark":{"type":"point","filled":true,"opacity":1,"fill":"#e0e0e0","size":1369,"shape":"M-1 -.52L-.16 -.52L-.16 .52L-.57 .52L-.57 -.14L-1 -.14ZM-.07 -.34A.16 .16 0 1 1 .25 -.34A.16 .16 0 1 1 -.07 -.34ZM.45 -.52L1 -.52L.62 .52L.08 .52Z"},"encoding":{"y":{"datum":318,"type":"quantitative"},"x":{"datum":2.8,"type":"quantitative"}}}
]}
],
"resolve":{"scale":{"y":"independent"},"axis":{"y":"independent"}}
}
